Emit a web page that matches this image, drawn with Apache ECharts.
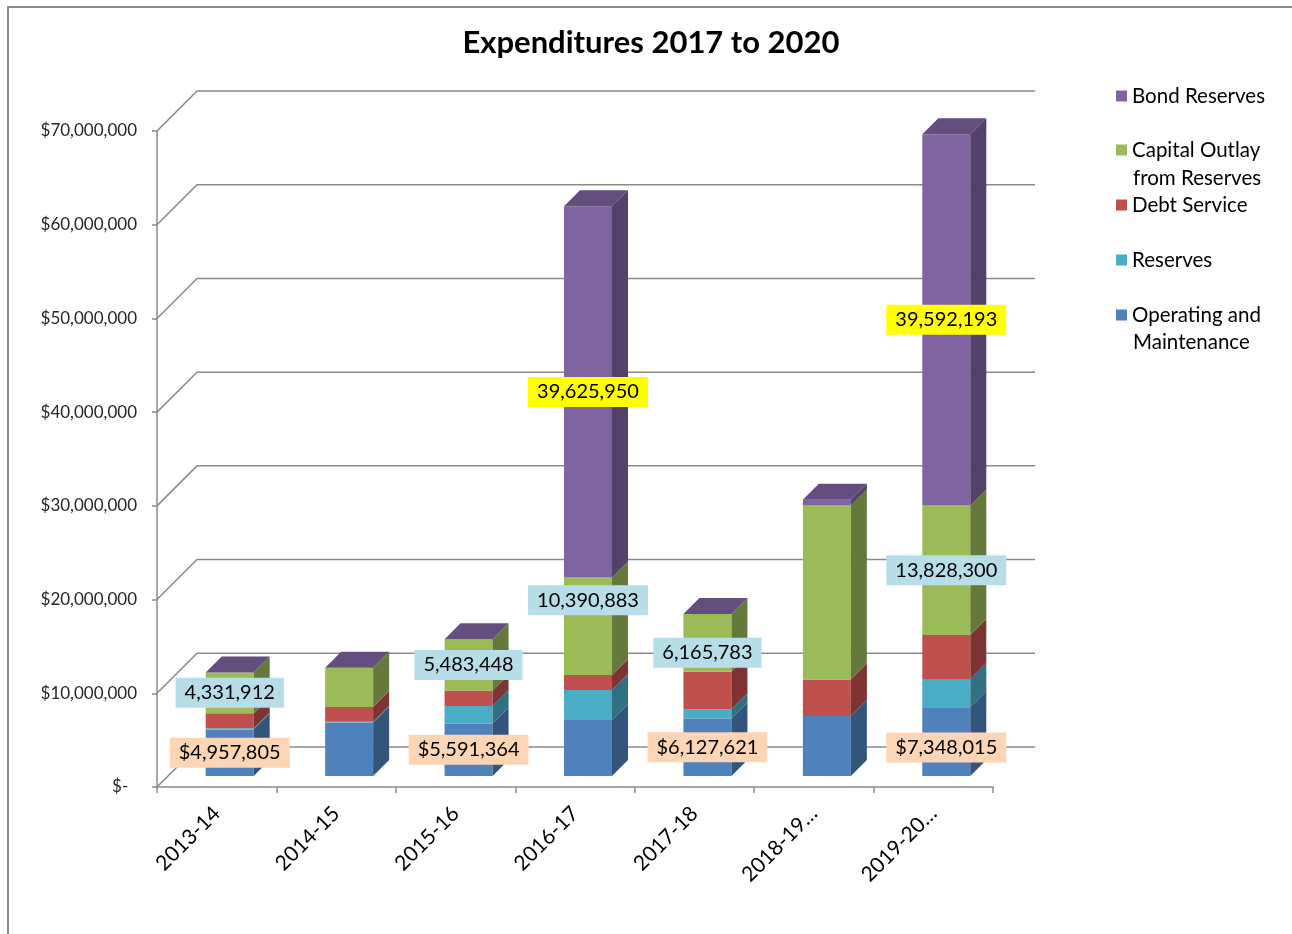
<!DOCTYPE html>
<html><head><meta charset="utf-8">
<script src="https://cdn.jsdelivr.net/npm/echarts@6/dist/echarts.min.js"></script>
<style>html,body{margin:0;padding:0;background:#fff}#c{width:1292px;height:934px}</style>
</head><body><div id="c"></div>
<script>
// ---- data ----
const categories = ['2013-14', '2014-15', '2015-16', '2016-17', '2017-18', '2018-19\u2026', '2019-20\u2026'];
const operating = [4957805, 5700000, 5591364, 5980000, 6127621, 6400000, 7348015];
const reserves = [150000, 100000, 1880000, 3200000, 1000000, 0, 3000000];
const debtService = [1600000, 1550000, 1630000, 1600000, 4000000, 3900000, 4700000];
const capitalOutlay = [4331912, 4200000, 5483448, 10390883, 6165783, 18570000, 13828300];
const bondReserves = [0, 0, 0, 39625950, 0, 600000, 39592193];
const yTicks = [0, 10000000, 20000000, 30000000, 40000000, 50000000, 60000000, 70000000];
const labelledOperating = [0, 2, 4, 6];
const labelledCapital = [0, 2, 3, 4, 6];
const labelledBond = [3, 6];

// ---- rendering ----
const FONT = 'Lato, "Open Sans", sans-serif';
const OFFX = 13, OFF = 11, DEPTH = 16, BW = 48, WALL = 40;
const stack = [
  {name: 'Operating and Maintenance', data: operating, color: '#4F81BD', side: '#33547B', labels: labelledOperating, bg: '#FCD5B4', fmt: v => '$' + v.toLocaleString('en-US'), dy: {6: 6}},
  {name: 'Reserves', data: reserves, color: '#4BACC6', side: '#317081'},
  {name: 'Debt Service', data: debtService, color: '#C0504D', side: '#7D3432'},
  {name: 'Capital Outlay from Reserves', data: capitalOutlay, color: '#9BBB59', side: '#657A3A', labels: labelledCapital, bg: '#B7DEE8', fmt: v => v.toLocaleString('en-US'), dy: {3: -26, 4: 10}},
  {name: 'Bond Reserves', data: bondReserves, color: '#8064A2', side: '#534169', top: '#644E7E', labels: labelledBond, bg: '#FFFF00', fmt: v => v.toLocaleString('en-US'), dy: {}}
];

function makeRender(sIdx) {
  const s = stack[sIdx];
  return function (params, api) {
    const i = api.value(0);
    let base = 0;
    for (let k = 0; k < sIdx; k++) base += stack[k].data[i];
    const val = s.data[i];
    const p0 = api.coord([i, base]);
    const p1 = api.coord([i, base + val]);
    const cx = p0[0] + OFFX;
    const yb = p0[1] - OFF, yt = p1[1] - OFF;
    const xl = cx - BW / 2, xr = cx + BW / 2;
    const children = [];
    if (yb - yt > 0.01) {
      children.push({type: 'rect', shape: {x: xl, y: yt, width: BW, height: yb - yt}, style: {fill: s.color}});
      children.push({type: 'polygon', shape: {points: [[xr, yb], [xr + DEPTH, yb - DEPTH], [xr + DEPTH, yt - DEPTH], [xr, yt]]}, style: {fill: s.side}});
    }
    if (s.top) {
      children.push({type: 'polygon', shape: {points: [[xl, yt], [xr, yt], [xr + DEPTH, yt - DEPTH], [xl + DEPTH, yt - DEPTH]]}, style: {fill: s.top}});
    }
    if (s.labels && s.labels.indexOf(i) >= 0) {
      children.push({type: 'text', z2: 100, style: {
        text: s.fmt(val), x: cx, y: (yb + yt) / 2 + (s.dy[i] || 0), align: 'center', verticalAlign: 'middle',
        fill: '#000', font: '20px ' + FONT, backgroundColor: s.bg, padding: [5, 9, 5, 9]
      }});
    }
    return {type: 'group', children: children};
  };
}

const series = [{
  type: 'custom', name: 'wall', z: 1, silent: true,
  data: yTicks.map(v => [0, v]),
  renderItem: function (params, api) {
    const cs = params.coordSys;
    const y = api.coord([0, api.value(1)])[1];
    const x0 = cs.x, x1 = cs.x + cs.width + 42;
    return {type: 'polyline', shape: {points: [[x0, y], [x0 + WALL, y - WALL], [x1, y - WALL]]}, style: {stroke: '#8a8a8a', lineWidth: 1.5, fill: null}};
  }
}];
stack.forEach((s, k) => {
  series.push({
    type: 'custom', name: s.name, z: 2,
    itemStyle: {color: s.color},
    data: s.data.map((v, i) => [i, v]),
    renderItem: makeRender(k)
  });
});

const legendRows = [
  ['Bond Reserves', 96, 'Bond Reserves'],
  ['Capital Outlay from Reserves', 150, 'Capital Outlay'],
  ['Debt Service', 205, 'Debt Service'],
  ['Reserves', 260, 'Reserves'],
  ['Operating and Maintenance', 315, 'Operating and']
];

const chart = echarts.init(document.getElementById('c'));
chart.setOption({
  backgroundColor: '#fff',
  animation: false,
  title: {text: 'Expenditures 2017 to 2020', left: 651, top: 27, textAlign: 'center', padding: 0,
    textStyle: {fontFamily: FONT, fontSize: 31, fontWeight: 'bold', color: '#000'}},
  grid: {left: 157, right: 299, top: 131, bottom: 147},
  xAxis: {
    type: 'category', data: categories,
    axisLine: {lineStyle: {color: '#8a8a8a', width: 1.5}},
    axisTick: {show: true, length: 6, lineStyle: {color: '#8a8a8a', width: 1.5}},
    axisLabel: {interval: 0, rotate: 45, margin: 23, fontFamily: FONT, fontSize: 21, color: '#000'}
  },
  yAxis: {
    type: 'value', min: 0, max: 70000000, interval: 10000000,
    splitLine: {show: false},
    axisLine: {show: true, lineStyle: {color: '#8a8a8a', width: 1.5}},
    axisTick: {show: true, length: 5, lineStyle: {color: '#8a8a8a', width: 1.5}},
    axisLabel: {margin: 20, fontFamily: FONT, fontSize: 17, color: '#262626',
      formatter: v => v === 0 ? '$-  ' : '$' + v.toLocaleString('en-US')}
  },
  legend: legendRows.map(r => ({
    data: [r[0]], left: 1116, top: r[1] - 12, padding: 0, orient: 'vertical',
    icon: 'rect', itemWidth: 11, itemHeight: 11, selectedMode: false,
    formatter: () => r[2],
    textStyle: {fontFamily: FONT, fontSize: 20.5, color: '#000', lineHeight: 24}
  })),
  graphic: [
    {type: 'rect', shape: {x: 8, y: 7, width: 1400, height: 1000}, style: {fill: null, stroke: '#8a8a8a', lineWidth: 2}, silent: true},
    {type: 'text', style: {text: 'from Reserves', x: 1133, y: 178, verticalAlign: 'middle', font: '20.5px ' + FONT, fill: '#000'}},
    {type: 'text', style: {text: 'Maintenance', x: 1133, y: 342, verticalAlign: 'middle', font: '20.5px ' + FONT, fill: '#000'}}
  ],
  series: series
});
</script>
</body></html>
